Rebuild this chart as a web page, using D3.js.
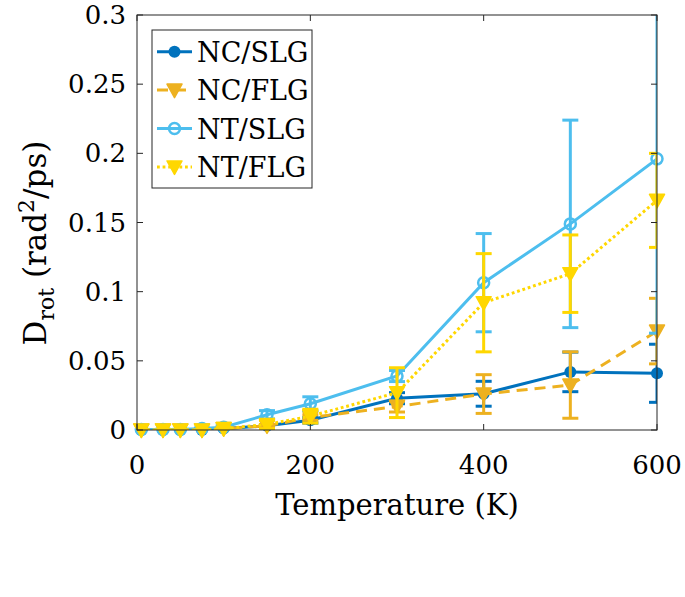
<!DOCTYPE html>
<html>
<head>
<meta charset="utf-8">
<script src="https://cdn.jsdelivr.net/npm/d3@7"></script>
<style>
  body { margin: 0; background: #fff; }
  svg { display: block; }
  text { font-family: "DejaVu Serif", serif; fill: #000; }
</style>
</head>
<body>
<svg id="chart" width="685" height="597"></svg>
<script>
// ---- data ----
const temperatures = [5, 30, 50, 75, 100, 150, 200, 300, 400, 500, 600];
const seriesNames = ["NC/SLG", "NC/FLG", "NT/SLG", "NT/FLG"];
const ncSlg    = [0, 0, 0, 0, 0.001, 0.003, 0.007, 0.023, 0.0262, 0.042, 0.041];
const ncSlgErr = [0, 0, 0, 0, 0.0005, 0.001, 0.002, 0.004, 0.009, 0.0143, 0.021];
const ncFlg    = [0, 0, 0, 0, 0.001, 0.003, 0.009, 0.017, 0.026, 0.0325, 0.0715];
const ncFlgErr = [0, 0, 0, 0, 0.0005, 0.001, 0.002, 0.004, 0.014, 0.024, 0.0237];
const ntSlg    = [0.0003, 0.0003, 0.0003, 0.001, 0.002, 0.011, 0.019, 0.039, 0.1065, 0.149, 0.196];
const ntSlgErr = [0.0002, 0.0002, 0.0002, 0.0005, 0.001, 0.003, 0.005, 0.004, 0.0355, 0.075, 0.126];
const ntFlg    = [0, 0, 0, 0, 0.001, 0.004, 0.01, 0.027, 0.092, 0.113, 0.166];
const ntFlgErr = [0, 0, 0, 0, 0.001, 0.003, 0.005, 0.018, 0.0355, 0.028, 0.034];
const xTicks = [0, 200, 400, 600];
const yTicks = [0, 0.05, 0.1, 0.15, 0.2, 0.25, 0.3];
const xLabel = "Temperature (K)";

// ---- layout ----
const svg = d3.select("#chart");
const L = 137, R = 657, T = 15, B = 430;
const x = d3.scaleLinear().domain([0, 600]).range([L, R]);
const y = d3.scaleLinear().domain([0, 0.3]).range([B, T]);

const styles = [
  { name: seriesNames[0], v: ncSlg, e: ncSlgErr, color: "#0072BD", dash: null, marker: "dot" },
  { name: seriesNames[1], v: ncFlg, e: ncFlgErr, color: "#EDB120", dash: "11,7", marker: "tri" },
  { name: seriesNames[2], v: ntSlg, e: ntSlgErr, color: "#4DBEEE", dash: null, marker: "ring" },
  { name: seriesNames[3], v: ntFlg, e: ntFlgErr, color: "#FFD700", dash: "2.8,2.8", marker: "tri" }
];

svg.append("defs").append("clipPath").attr("id", "plotclip")
  .append("rect").attr("x", L).attr("y", T).attr("width", R - L).attr("height", B - T);

const lw = 3, cap = 8;
const triPath = "M-7.5,-6 L7.5,-6 L0,7.5 Z";

function drawMarker(g, m, cx, cy, color) {
  if (m === "dot") {
    g.append("circle").attr("cx", cx).attr("cy", cy).attr("r", 6).attr("fill", color);
  } else if (m === "ring") {
    g.append("circle").attr("cx", cx).attr("cy", cy).attr("r", 5.5)
      .attr("fill", "none").attr("stroke", color).attr("stroke-width", 2.5);
  } else {
    g.append("path").attr("d", triPath).attr("transform", `translate(${cx},${cy})`)
      .attr("fill", color).attr("stroke", color).attr("stroke-width", 1.5).attr("stroke-linejoin", "round");
  }
}

const plot = svg.append("g");
styles.forEach(s => {
  const pts = temperatures.map((t, i) => ({ t, v: s.v[i], e: s.e[i] }));
  const gc = plot.append("g").attr("clip-path", "url(#plotclip)");
  // error bars
  pts.forEach(p => {
    const x0 = x(p.t), y1 = y(p.v + p.e), y2 = y(p.v - p.e);
    gc.append("line").attr("x1", x0).attr("x2", x0).attr("y1", y1).attr("y2", y2)
      .attr("stroke", s.color).attr("stroke-width", lw);
    [y1, y2].forEach(yy => gc.append("line").attr("x1", x0 - cap).attr("x2", x0 + cap)
      .attr("y1", yy).attr("y2", yy).attr("stroke", s.color).attr("stroke-width", lw));
  });
  // line
  gc.append("path").datum(pts)
    .attr("d", d3.line().x(d => x(d.t)).y(d => y(d.v)))
    .attr("fill", "none").attr("stroke", s.color).attr("stroke-width", lw)
    .attr("stroke-dasharray", s.dash);
  // markers
  const gm = plot.append("g");
  pts.forEach(p => drawMarker(gm, s.marker, x(p.t), y(p.v), s.color));
});

// ---- axes / frame ----
const axisColor = "#262626";
const tickLen = 6;
const ax = svg.append("g");
ax.append("rect").attr("x", L).attr("y", T).attr("width", R - L).attr("height", B - T)
  .attr("fill", "none").attr("stroke", axisColor).attr("stroke-width", 1);
xTicks.forEach(t => {
  ax.append("line").attr("x1", x(t)).attr("x2", x(t)).attr("y1", B).attr("y2", B - tickLen).attr("stroke", axisColor);
  ax.append("line").attr("x1", x(t)).attr("x2", x(t)).attr("y1", T).attr("y2", T + tickLen).attr("stroke", axisColor);
  ax.append("text").attr("x", x(t)).attr("y", 474).attr("text-anchor", "middle")
    .attr("font-size", 26).text(d3.format("d")(t));
});
yTicks.forEach(t => {
  ax.append("line").attr("x1", L).attr("x2", L + tickLen).attr("y1", y(t)).attr("y2", y(t)).attr("stroke", axisColor);
  ax.append("line").attr("x1", R).attr("x2", R - tickLen).attr("y1", y(t)).attr("y2", y(t)).attr("stroke", axisColor);
  ax.append("text").attr("x", 126).attr("y", y(t) + 9).attr("text-anchor", "end")
    .attr("font-size", 26).text(String(t));
});

// x label
svg.append("text").attr("x", (L + R) / 2).attr("y", 515).attr("text-anchor", "middle")
  .attr("font-size", 29).text(xLabel);

// y label
const yl = svg.append("text").attr("transform", "translate(46,243) rotate(-90)")
  .attr("text-anchor", "middle").attr("font-size", 31);
yl.append("tspan").text("D");
yl.append("tspan").attr("font-size", 22).attr("dy", 8).text("rot");
yl.append("tspan").attr("dy", -8).text(" (rad");
yl.append("tspan").attr("font-size", 22).attr("dy", -12).text("2");
yl.append("tspan").attr("dy", 12).text("/ps)");

// ---- legend ----
const lg = svg.append("g");
lg.append("rect").attr("x", 152).attr("y", 30).attr("width", 160).attr("height", 158)
  .attr("fill", "#fff").attr("stroke", axisColor).attr("stroke-width", 1);
styles.forEach((s, i) => {
  const cy = 51.7 + i * 38.4;
  lg.append("line").attr("x1", 157).attr("x2", 192).attr("y1", cy).attr("y2", cy)
    .attr("stroke", s.color).attr("stroke-width", lw).attr("stroke-dasharray", s.dash);
  drawMarker(lg, s.marker, 174.5, cy, s.color);
  lg.append("text").attr("x", 197).attr("y", cy + 10).attr("font-size", 27).text(s.name);
});
</script>
</body>
</html>
